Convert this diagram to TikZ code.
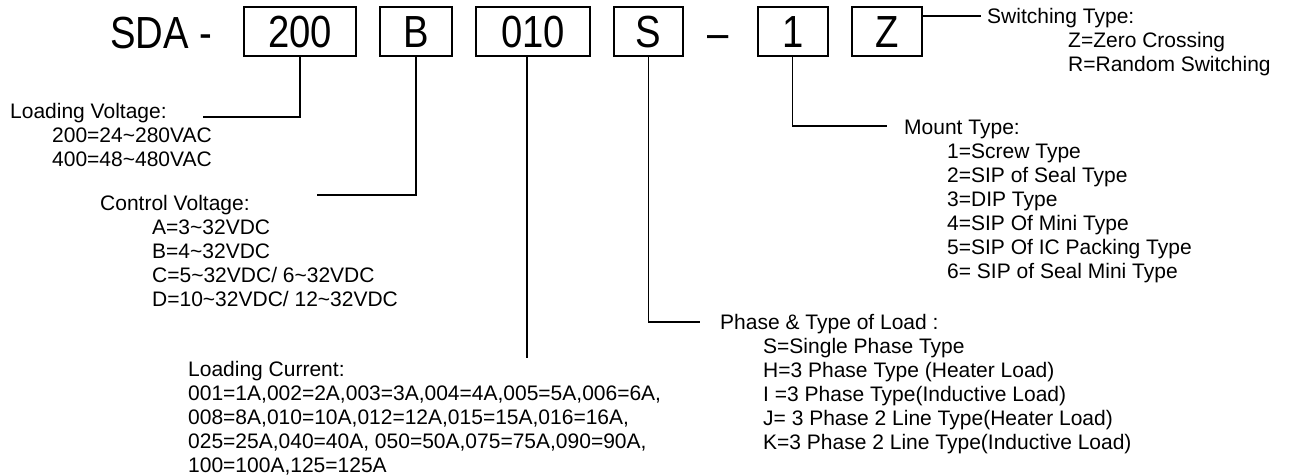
\documentclass[tikz,border=0pt]{standalone}
\usepackage{fontspec}
\setmainfont{Liberation Sans}
\newfontfamily\codefont[FakeStretch=0.85]{Liberation Sans}
\usepackage{tikz}
\usetikzlibrary{positioning}
\tikzstyle{codebox} = [rectangle, draw, line width=2pt, minimum height=49pt, inner sep=0pt, text height=32pt, text depth=0pt, font=\codefont\fontsize{45}{45}\selectfont]
\tikzstyle{codetext} = [draw=none, fill=none, inner sep=0pt, font=\codefont\fontsize{45}{45}\selectfont]
\tikzstyle{legend} = [draw=none, fill=none, inner sep=0pt, anchor=north west, align=left, font=\fontsize{21}{24}\selectfont]
\tikzstyle{lead} = [draw, line width=1.5pt]
\newcommand{\ind}[1]{\hspace*{#1pt}}
\newcommand{\tld}{\textasciitilde}

\begin{document}
\begin{tikzpicture}[x=1pt, y=-1pt]
	\useasboundingbox (0,0) rectangle (1290,475);

	% part number
	\node [codetext, anchor=base west] (sda) at (110,48) {SDA -};
	\node [codebox, minimum width=112pt] (b200) at (300,31.5) {200};
	\node [codebox, minimum width=72pt, right=22pt of b200] (bB)   {B};
	\node [codebox, minimum width=114pt, right=22pt of bB]  (b010) {010};
	\node [codebox, minimum width=69pt, right=22pt of b010] (bS)   {S};
	\node [codetext, anchor=base west] (dash) at ([xshift=23pt]bS.east |- sda.base) {\textendash};
	\node [codebox, minimum width=70pt, right=28pt of dash.east |- bS.east] (b1) {1};
	\node [codebox, minimum width=70pt, right=22pt of b1]   (bZ)   {Z};

	% legend texts
	\node [legend] (lv) at (10,103) {Loading Voltage:\\
		\ind{42}200=24\tld280VAC\\
		\ind{42}400=48\tld480VAC};
	\node [legend] (cv) at (100,195) {Control Voltage:\\
		\ind{52}A=3\tld32VDC\\
		\ind{52}B=4\tld32VDC\\
		\ind{52}C=5\tld32VDC/ 6\tld32VDC\\
		\ind{52}D=10\tld32VDC/ 12\tld32VDC};
	\node [legend] (lc) at (188,361) {Loading Current:\\
		001=1A,002=2A,003=3A,004=4A,005=5A,006=6A,\\
		008=8A,010=10A,012=12A,015=15A,016=16A,\\
		025=25A,040=40A, 050=50A,075=75A,090=90A,\\
		100=100A,125=125A};
	\node [legend] (pt) at (720,314.5) {Phase \& Type of Load :\\
		\ind{43}S=Single Phase Type\\
		\ind{43}H=3 Phase Type (Heater Load)\\
		\ind{43}I =3 Phase Type(Inductive Load)\\
		\ind{43}J= 3 Phase 2 Line Type(Heater Load)\\
		\ind{43}K=3 Phase 2 Line Type(Inductive Load)};
	\node [legend] (mt) at (904,119.5) {Mount Type:\\
		\ind{43}1=Screw Type\\
		\ind{43}2=SIP of Seal Type\\
		\ind{43}3=DIP Type\\
		\ind{43}4=SIP Of Mini Type\\
		\ind{43}5=SIP Of IC Packing Type\\
		\ind{43}6= SIP of Seal Mini Type};
	\node [legend] (st) at (987,8.5) {Switching Type:\\
		\ind{81}Z=Zero Crossing\\
		\ind{81}R=Random Switching};

	% line ends
	\coordinate (lvend) at (203,117);
	\coordinate (cvend) at (317,195);
	\coordinate (lcend) at (527,358);
	\coordinate (ptend) at (700,322);
	\coordinate (mtend) at (887,126);
	\coordinate (stend) at (981,16);

	% draw leads
	\path [lead] (b200.south) |- (lvend);
	\path [lead] (bB.south) |- (cvend);
	\path [lead, line width=2.5pt] (b010.south -| lcend) -- (lcend);
	\path [lead] (bS.south) |- (ptend);
	\path [lead] (b1.south) |- (mtend);
	\path [lead] (bZ.east |- stend) -- (stend);
\end{tikzpicture}
\end{document}
